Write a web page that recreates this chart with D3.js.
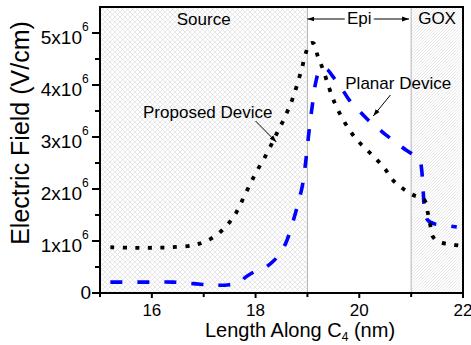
<!DOCTYPE html>
<html>
<head>
<meta charset="utf-8">
<script src="https://cdn.jsdelivr.net/npm/d3@7"></script>
<style>
  body { margin: 0; background: #fff; }
  svg { display: block; font-family: "Liberation Sans", Arial, sans-serif; }
</style>
</head>
<body>
<svg id="chart" width="471" height="345"></svg>
<script>
// values (x in nm, y in units of 1e6 V/cm)
const proposedX = [15.2, 15.6, 16.0, 16.4, 16.8, 17.0, 17.2, 17.4, 17.6, 17.8, 18.0, 18.2, 18.4, 18.55, 18.7, 18.8, 18.9, 18.97, 19.05, 19.12, 19.2, 19.3, 19.42, 19.52, 19.65, 19.8, 19.95, 20.15, 20.35, 20.5, 20.65, 20.85, 21.05, 21.25, 21.32, 21.37, 21.42, 21.55, 21.75, 22.0];
const proposedY = [0.88, 0.87, 0.87, 0.88, 0.92, 0.98, 1.08, 1.25, 1.5, 1.9, 2.3, 2.65, 3.05, 3.35, 3.7, 4.0, 4.35, 4.62, 4.8, 4.8, 4.55, 4.3, 3.94, 3.67, 3.4, 3.15, 2.95, 2.75, 2.55, 2.38, 2.17, 2.0, 1.88, 1.8, 1.55, 1.3, 1.08, 0.98, 0.94, 0.9];
const planarX = [15.2, 15.6, 16.0, 16.4, 16.8, 17.2, 17.5, 17.7, 17.8, 18.0, 18.2, 18.35, 18.5, 18.6, 18.7, 18.8, 18.9, 18.97, 19.03, 19.1, 19.16, 19.22, 19.3, 19.38, 19.5, 19.65, 19.8, 20.0, 20.2, 20.35, 20.5, 20.7, 20.9, 21.1, 21.17, 21.2, 21.23, 21.26, 21.32, 21.45, 21.65, 21.88];
const planarY = [0.21, 0.21, 0.21, 0.21, 0.18, 0.15, 0.16, 0.2, 0.3, 0.42, 0.5, 0.62, 0.8, 1.0, 1.3, 1.65, 2.05, 2.55, 3.1, 3.65, 4.05, 4.25, 4.33, 4.3, 4.15, 3.95, 3.72, 3.5, 3.3, 3.18, 3.05, 2.9, 2.75, 2.62, 2.55, 2.4, 2.0, 1.6, 1.4, 1.33, 1.3, 1.27];

const xTicks = [16, 18, 20, 22];
const xMinorTicks = [15, 17, 19, 21];
const yTicks = [0, 1, 2, 3, 4, 5];
const yMinorTicks = [0.5, 1.5, 2.5, 3.5, 4.5];

const regionNames = ['Source', 'Epi', 'GOX'];
const regionBounds = [[15, 19], [19, 21], [21, 22]];

const width = 471;
const height = 345;
const margin = { top: 7, right: 8, bottom: 52, left: 100 };
const innerW = width - margin.left - margin.right;
const innerH = height - margin.top - margin.bottom;

const svg = d3.select('#chart');
const x = d3.scaleLinear().domain([15, 22]).range([0, innerW]);
const y = d3.scaleLinear().domain([0, 5.5]).range([innerH, 0]);

const defs = svg.append('defs');
const cross = defs.append('pattern').attr('id', 'cross')
  .attr('patternUnits', 'userSpaceOnUse').attr('width', 5).attr('height', 5);
cross.append('path').attr('d', 'M0,0L5,5M5,0L0,5')
  .attr('stroke', '#d6d6d6').attr('stroke-width', 0.6);
const diag = defs.append('pattern').attr('id', 'diag')
  .attr('patternUnits', 'userSpaceOnUse').attr('width', 3).attr('height', 3);
diag.append('path').attr('d', 'M-1,1L1,-1M0,3L3,0M2,4L4,2')
  .attr('stroke', '#d8d8d8').attr('stroke-width', 0.6);

defs.append('marker').attr('id', 'arrowBlack')
  .attr('viewBox', '0 0 10 10').attr('refX', 10).attr('refY', 5)
  .attr('markerWidth', 7).attr('markerHeight', 7).attr('orient', 'auto')
  .attr('markerUnits', 'userSpaceOnUse')
  .append('path').attr('d', 'M0,1.5L10,5L0,8.5Z').attr('fill', '#000');

const g = svg.append('g').attr('transform', `translate(${margin.left},${margin.top})`);

// regions
g.append('rect')
  .attr('x', x(regionBounds[0][0])).attr('y', 0)
  .attr('width', x(regionBounds[0][1]) - x(regionBounds[0][0])).attr('height', innerH)
  .attr('fill', 'url(#cross)');
g.append('rect')
  .attr('x', x(regionBounds[2][0])).attr('y', 0)
  .attr('width', x(regionBounds[2][1]) - x(regionBounds[2][0])).attr('height', innerH)
  .attr('fill', 'url(#diag)');
[regionBounds[0][1], regionBounds[2][0]].forEach(v => {
  g.append('line').attr('x1', x(v)).attr('x2', x(v)).attr('y1', 0).attr('y2', innerH)
    .attr('stroke', '#b4b4b4').attr('stroke-width', 1);
});

// curves
const line = d3.line().x(d => x(d[0])).y(d => y(d[1])).curve(d3.curveCatmullRom.alpha(0.5));
g.append('path').datum(planarX.map((v, i) => [v, planarY[i]]))
  .attr('d', line).attr('fill', 'none').attr('stroke', '#0000ff')
  .attr('stroke-width', 3.6).attr('stroke-dasharray', '12,15');
g.append('path').datum(proposedX.map((v, i) => [v, proposedY[i]]))
  .attr('d', line).attr('fill', 'none').attr('stroke', '#000')
  .attr('stroke-width', 3.8).attr('stroke-dasharray', '4,8.5');

// frame
g.append('rect').attr('x', 0).attr('y', 0).attr('width', innerW).attr('height', innerH)
  .attr('fill', 'none').attr('stroke', '#000').attr('stroke-width', 2);

// x axis
const xAxis = g.append('g').attr('transform', `translate(0,${innerH})`);
xAxis.selectAll('.major').data(xTicks).join('line')
  .attr('x1', d => x(d)).attr('x2', d => x(d)).attr('y1', 0).attr('y2', 5)
  .attr('stroke', '#000').attr('stroke-width', 2);
xAxis.selectAll('.minor').data(xMinorTicks).join('line')
  .attr('x1', d => x(d)).attr('x2', d => x(d)).attr('y1', 0).attr('y2', 4)
  .attr('stroke', '#000').attr('stroke-width', 2);
xAxis.selectAll('text').data(xTicks).join('text')
  .attr('x', d => x(d)).attr('y', 23).attr('text-anchor', 'middle')
  .attr('font-size', 17).text(d => d);

// y axis
const yAxis = g.append('g');
yAxis.selectAll('.major').data(yTicks).join('line')
  .attr('x1', -8).attr('x2', 0).attr('y1', d => y(d)).attr('y2', d => y(d))
  .attr('stroke', '#000').attr('stroke-width', 2);
yAxis.selectAll('.minor').data(yMinorTicks).join('line')
  .attr('x1', -5).attr('x2', 0).attr('y1', d => y(d)).attr('y2', d => y(d))
  .attr('stroke', '#000').attr('stroke-width', 2);
yAxis.selectAll('text').data(yTicks).join('text')
  .attr('x', d => (d === 0 ? -9 : -18)).attr('y', d => y(d) + (d === 0 ? 6 : 11))
  .attr('text-anchor', 'end').attr('font-size', 19)
  .text(d => (d === 0 ? '0' : `${d}x10`));
yAxis.selectAll('.sup').data(yTicks.filter(d => d > 0)).join('text')
  .attr('x', -18).attr('y', d => y(d) - 2)
  .attr('font-size', 12).text('6');

// axis titles
const xTitle = svg.append('text')
  .attr('x', 300).attr('y', 337)
  .attr('text-anchor', 'middle').attr('font-size', 20);
xTitle.append('tspan').text('Length Along C');
xTitle.append('tspan').attr('font-size', 12).attr('dy', 4).text('4');
xTitle.append('tspan').attr('dy', -4).text(' (nm)');

svg.append('text')
  .attr('transform', `translate(29,${margin.top + 126}) rotate(-90)`)
  .attr('text-anchor', 'middle').attr('font-size', 25)
  .text('Electric Field (V/cm)');

// region labels
g.append('text').attr('x', x(17.0)).attr('y', 18).attr('text-anchor', 'middle')
  .attr('font-size', 17).text(regionNames[0]);
g.append('text').attr('x', x(20.0)).attr('y', 17).attr('text-anchor', 'middle')
  .attr('font-size', 17).text(regionNames[1]);
g.append('line').attr('x1', x(19.72)).attr('x2', x(19.0)).attr('y1', 12).attr('y2', 12)
  .attr('stroke', '#000').attr('stroke-width', 1).attr('marker-end', 'url(#arrowBlack)');
g.append('line').attr('x1', x(20.28)).attr('x2', x(20.96)).attr('y1', 12).attr('y2', 12)
  .attr('stroke', '#000').attr('stroke-width', 1).attr('marker-end', 'url(#arrowBlack)');
g.append('text').attr('x', x(21.5)).attr('y', 17).attr('text-anchor', 'middle')
  .attr('font-size', 17).text(regionNames[2]);

// curve labels
g.append('text').attr('x', x(15.83)).attr('y', 111).attr('font-size', 17).text('Proposed Device');
g.append('line').attr('x1', x(18.0)).attr('y1', 114).attr('x2', x(18.4)).attr('y2', 135)
  .attr('stroke', '#000').attr('stroke-width', 1).attr('marker-end', 'url(#arrowBlack)');
g.append('text').attr('x', x(19.73)).attr('y', 82).attr('font-size', 17).text('Planar Device');
g.append('line').attr('x1', x(20.6)).attr('y1', 88).attr('x2', x(20.27)).attr('y2', 109)
  .attr('stroke', '#000').attr('stroke-width', 1).attr('marker-end', 'url(#arrowBlack)');
</script>
</body>
</html>
